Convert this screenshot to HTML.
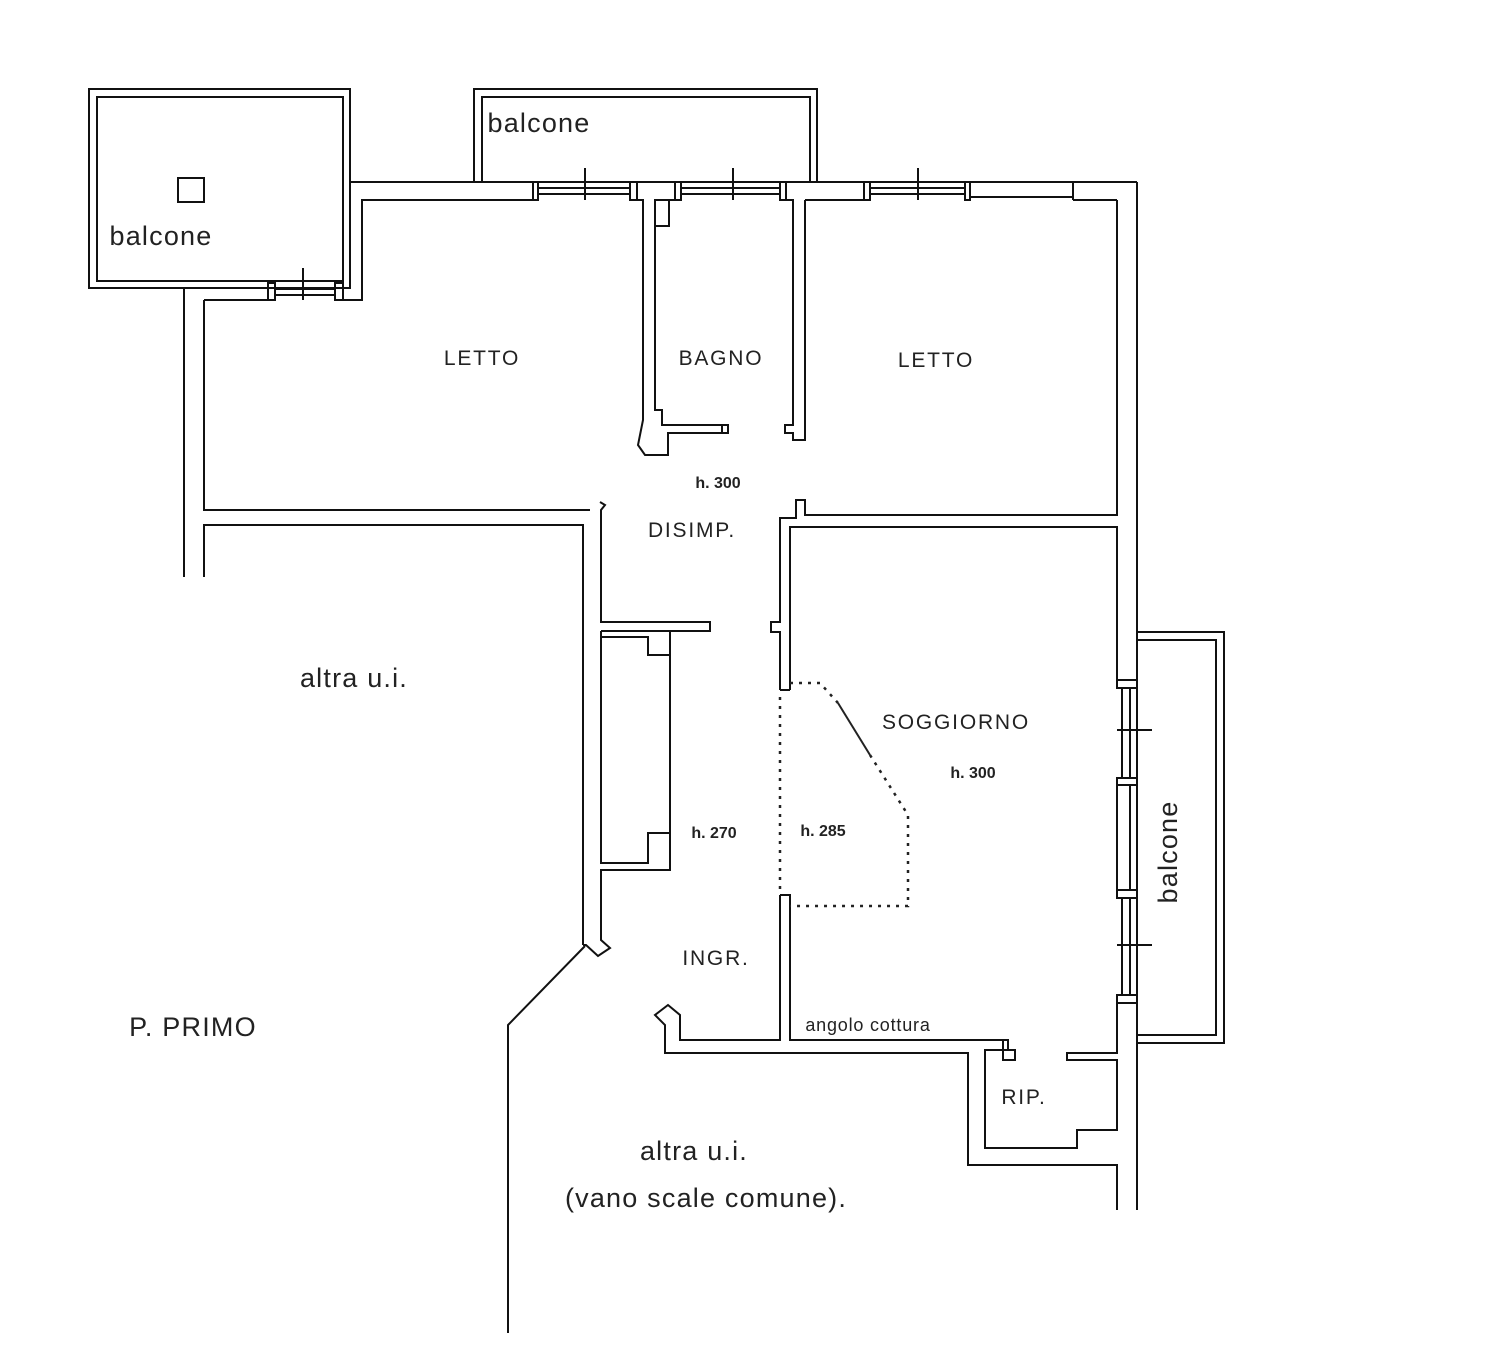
<!DOCTYPE html>
<html><head><meta charset="utf-8"><style>
html,body{margin:0;padding:0;background:#fff;}
svg{display:block;}
text{font-family:"Liberation Sans",Arial,sans-serif;fill:#222;}
</style></head><body>
<svg width="1500" height="1353" viewBox="0 0 1500 1353" xmlns="http://www.w3.org/2000/svg">
<g fill="none" stroke="#111" stroke-width="2">
<rect x="89" y="89" width="261" height="199"/>
<rect x="97" y="97" width="246" height="184"/>
<rect x="178" y="178" width="26" height="24"/>
<polyline points="474,182 474,89 817,89 817,182"/>
<polyline points="482,182 482,97 810,97 810,182"/>
<polyline points="1137,632 1224,632 1224,1043 1137,1043"/>
<polyline points="1137,640 1216,640 1216,1035 1137,1035"/>

<polyline points="184,288 184,577"/>
<polyline points="204,577 204,525 583,525 583,945"/>
<polyline points="204,300 268,300 268,283"/>
<polyline points="204,300 204,510 590,510"/>
<rect x="268" y="283" width="7" height="17"/>
<rect x="335" y="283" width="8" height="17"/>
<line x1="275" y1="289" x2="335" y2="289"/>
<line x1="275" y1="295" x2="335" y2="295"/>
<line x1="303" y1="268" x2="303" y2="300"/>
<polyline points="343,300 362,300 362,200 533,200"/>
<line x1="350" y1="182" x2="1137" y2="182"/>
<line x1="350" y1="182" x2="350" y2="288"/>

<rect x="533" y="182" width="5" height="18"/>
<line x1="538" y1="188" x2="630" y2="188"/>
<line x1="538" y1="194" x2="630" y2="194"/>
<line x1="585" y1="168" x2="585" y2="200"/>
<rect x="630" y="182" width="7" height="18"/>
<rect x="675" y="182" width="6" height="18"/>
<line x1="681" y1="188" x2="780" y2="188"/>
<line x1="681" y1="194" x2="780" y2="194"/>
<line x1="733" y1="168" x2="733" y2="200"/>
<rect x="780" y="182" width="6" height="18"/>
<line x1="805" y1="200" x2="868" y2="200"/>
<rect x="864" y="182" width="6" height="18"/>
<line x1="870" y1="188" x2="965" y2="188"/>
<line x1="870" y1="194" x2="965" y2="194"/>
<line x1="918" y1="168" x2="918" y2="200"/>
<rect x="965" y="182" width="5" height="18"/>
<line x1="970" y1="197" x2="1073" y2="197"/>
<line x1="1073" y1="182" x2="1073" y2="200"/>
<line x1="1073" y1="200" x2="1117" y2="200"/>

<polyline points="637,200 643,200 643,420 638,445 645,455 668,455 668,433 728,433 728,425 662,425 662,410 655,410 655,200 675,200"/>
<polyline points="655,226 669,226 669,200"/>
<polyline points="786,200 793,200 793,425 785,425 785,433 793,433 793,440 805,440 805,200"/>
<line x1="722" y1="425" x2="722" y2="433"/>

<polyline points="600,502 605,505 601,510 601,622 710,622 710,631 601,631"/>
<polyline points="780,690 780,632 771,632 771,622 780,622 780,518 796,518 796,500 805,500 805,515 1117,515 1117,200"/>
<polyline points="790,690 790,527 1117,527 1117,680"/>
<line x1="780" y1="690" x2="790" y2="690"/>
<line x1="1137" y1="182" x2="1137" y2="1210"/>
<rect x="1117" y="680" width="20" height="8"/>
<line x1="1122" y1="688" x2="1122" y2="778"/>
<line x1="1130" y1="688" x2="1130" y2="778"/>
<line x1="1117" y1="730" x2="1152" y2="730"/>
<rect x="1117" y="778" width="20" height="7"/>
<line x1="1117" y1="785" x2="1117" y2="890"/>
<line x1="1130" y1="785" x2="1130" y2="890"/>
<rect x="1117" y="890" width="20" height="8"/>
<line x1="1122" y1="898" x2="1122" y2="995"/>
<line x1="1130" y1="898" x2="1130" y2="995"/>
<line x1="1117" y1="945" x2="1152" y2="945"/>
<rect x="1117" y="995" width="20" height="8"/>

<polyline points="601,631 601,863 648,863 648,833 670,833 670,870 601,870 601,940 610,948 598,956 586,945 583,945"/>
<polyline points="601,637 648,637 648,655 670,655 670,631"/>
<line x1="670" y1="655" x2="670" y2="833"/>
<polyline points="585,946 508,1025 508,1333"/>

<polyline points="780,895 780,1040 680,1040 680,1015 668,1005 655,1015 665,1025 665,1053 968,1053 968,1165 1117,1165 1117,1210"/>
<polyline points="780,895 790,895 790,1040 1003,1040 1003,1060 1015,1060 1015,1050 985,1050 985,1148 1077,1148 1077,1130 1117,1130 1117,1060 1067,1060 1067,1053 1117,1053 1117,1003"/>
<polyline points="1003,1040 1008,1040 1008,1050"/>
<line x1="1117" y1="1003" x2="1117" y2="1053"/>
</g>
<g fill="none" stroke="#222" stroke-width="2.5" stroke-dasharray="3,6">
<polyline points="780,697 780,890"/>
<polyline points="790,683 820,683 838,703"/>
<polyline points="870,755 908,815 908,906 790,906"/>
</g>
<line x1="838" y1="703" x2="870" y2="755" stroke="#222" stroke-width="2"/>

<g font-size="27" letter-spacing="1.2">
<text x="539" y="132" text-anchor="middle">balcone</text>
<text x="161" y="245" text-anchor="middle">balcone</text>
<text x="354" y="687" text-anchor="middle">altra u.i.</text>
<text x="193" y="1036" text-anchor="middle">P. PRIMO</text>
<text x="694" y="1160" text-anchor="middle">altra u.i.</text>
<text x="706" y="1207" text-anchor="middle">(vano scale comune).</text>
<text x="0" y="0" text-anchor="middle" transform="translate(1177,852) rotate(-90)">balcone</text>
</g>
<g font-size="21" letter-spacing="1.8">
<text x="482" y="365" text-anchor="middle">LETTO</text>
<text x="721" y="365" text-anchor="middle">BAGNO</text>
<text x="936" y="367" text-anchor="middle">LETTO</text>
<text x="692" y="537" text-anchor="middle">DISIMP.</text>
<text x="956" y="729" text-anchor="middle">SOGGIORNO</text>
<text x="716" y="965" text-anchor="middle">INGR.</text>
<text x="1024" y="1104" text-anchor="middle">RIP.</text>
</g>
<text x="868" y="1031" text-anchor="middle" font-size="18" letter-spacing="0.8">angolo cottura</text>
<g font-size="16" font-weight="bold">
<text x="718" y="488" text-anchor="middle">h. 300</text>
<text x="973" y="778" text-anchor="middle">h. 300</text>
<text x="714" y="838" text-anchor="middle">h. 270</text>
<text x="823" y="836" text-anchor="middle">h. 285</text>
</g>
</svg>
</body></html>
